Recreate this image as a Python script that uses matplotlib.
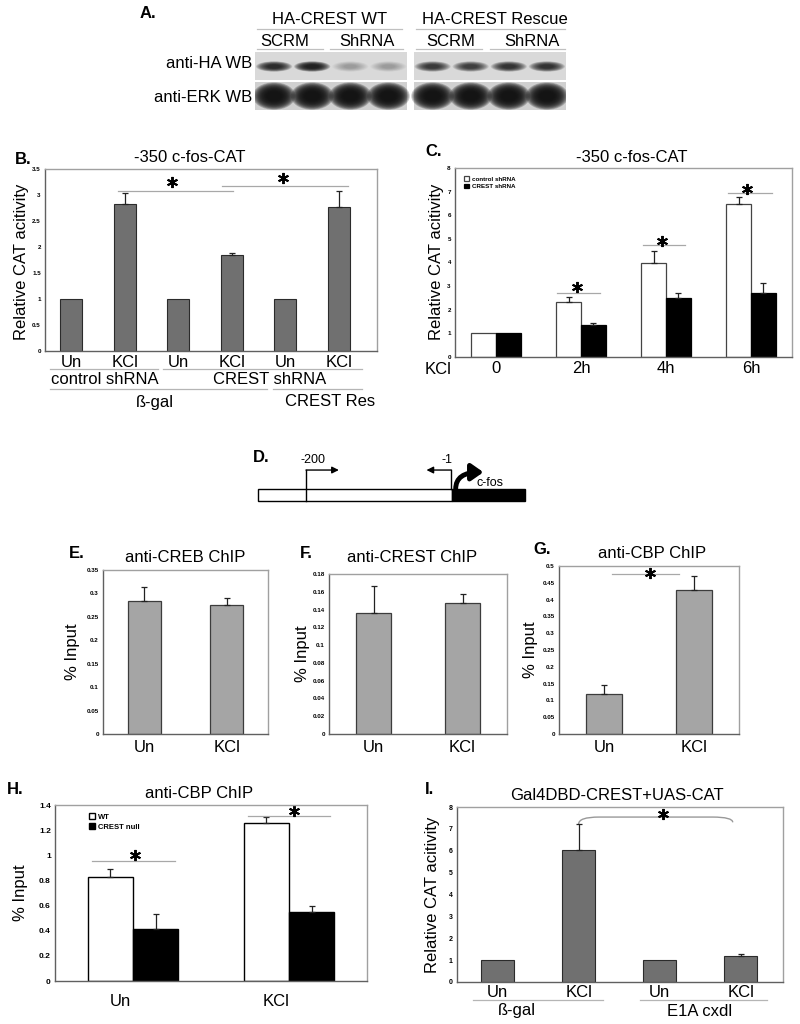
import numpy as np
import matplotlib
matplotlib.use('Agg')
import matplotlib.pyplot as plt
from matplotlib.patches import Rectangle, Ellipse, FancyArrowPatch, PathPatch
from matplotlib.path import Path
from matplotlib.ticker import FuncFormatter

plt.rcParams['font.family'] = ['Liberation Sans', 'DejaVu Sans']

# ---------------- DATA ----------------
# A. western blot, band strength per lane (SCRM, SCRM, ShRNA, ShRNA)
ha_wt = [0.85, 0.9, 0.3, 0.28]
ha_rescue = [0.78, 0.75, 0.8, 0.82]
erk_wt = [1.0, 1.0, 1.0, 1.0]
erk_rescue = [1.0, 1.0, 1.0, 1.0]

# B. -350 c-fos-CAT with shRNA
b_ticks = ['Un', 'KCl', 'Un', 'KCl', 'Un', 'KCl']
b_values = [1.0, 2.83, 1.0, 1.84, 1.0, 2.77]
b_err = [0, 0.21, 0, 0.05, 0, 0.30]

# C. KCl time course
c_ticks = ['0', '2h', '4h', '6h']
c_control = [1.0, 2.31, 3.98, 6.46]
c_control_err = [0, 0.21, 0.52, 0.31]
c_crest = [1.02, 1.36, 2.49, 2.69]
c_crest_err = [0, 0.10, 0.21, 0.43]

# D. promoter map (bp from TSS)
promoter_start = -266
exon_end = 100
primer_fwd = -200
primer_rev = -1

# E-G. ChIP at c-fos promoter
chip_ticks = ['Un', 'KCl']
creb_values = [0.283, 0.275]
creb_err = [0.031, 0.016]
crest_values = [0.136, 0.147]
crest_err = [0.031, 0.011]
cbp_values = [0.120, 0.430]
cbp_err = [0.025, 0.041]

# H. CBP ChIP, WT vs CREST null
h_ticks = ['Un', 'KCl']
h_wt = [0.83, 1.26]
h_wt_err = [0.06, 0.045]
h_null = [0.415, 0.545]
h_null_err = [0.12, 0.05]

# I. Gal4DBD-CREST + UAS-CAT
i_ticks = ['Un', 'KCl', 'Un', 'KCl']
i_values = [1.0, 6.02, 1.0, 1.19]
i_err = [0, 1.19, 0, 0.08]


# ---------------- HELPERS ----------------
W, H = 800, 1024
fig = plt.figure(figsize=(W / 100, H / 100), dpi=100)


def panel(x0, y0, x1, y1):
    # axes placed by pixel box (top-left origin)
    return fig.add_axes([x0 / W, 1 - y1 / H, (x1 - x0) / W, (y1 - y0) / H])


ov = fig.add_axes([0, 0, 1, 1], zorder=10)
ov.set_xlim(0, W)
ov.set_ylim(H, 0)
ov.axis('off')


def label(x, y, s, size=12, ha='center', **kw):
    ov.text(x, y, s, fontsize=size, ha=ha, va='center', **kw)


def hline(x0, x1, y, color='#b5b5b5'):
    ov.plot([x0, x1], [y, y], color=color, lw=0.9)


def style(ax, ymax, step, tsize=4.5, xpad=4):
    ax.set_ylim(0, ymax)
    ax.set_yticks(np.arange(0, ymax + step / 2, step))
    ax.yaxis.set_major_formatter(FuncFormatter(lambda v, p: f'{v:g}'))
    ax.tick_params(axis='y', length=0, labelsize=tsize, pad=3)
    ax.tick_params(axis='x', length=0, labelsize=12, pad=xpad)
    for t in ax.get_yticklabels():
        t.set_fontweight('bold')
    for s in ax.spines.values():
        s.set_color('#a0a0a0')
        s.set_linewidth(1)
    ax.spines['left'].set_color('#606060')
    ax.spines['bottom'].set_color('#606060')


def up_err(ax, x, vals, errs):
    x = np.asarray(x, float)
    vals = np.asarray(vals, float)
    errs = np.asarray(errs, float)
    m = errs > 0
    ax.errorbar(x[m], vals[m], yerr=[np.zeros(m.sum()), errs[m]], fmt='none',
                ecolor='#222222', elinewidth=0.9, capsize=2.2, capthick=0.9)


def sig(ax, x0, x1, y):
    ax.plot([x0, x1], [y, y], color='#a8a8a8', lw=0.9, clip_on=False)


def star(ax, x, y):
    ax.plot(x, y, marker=(6, 2, 0), ms=8, mew=1.4, color='black', clip_on=False)


def band(ax, x, y, w, h, strength):
    # soft blot band: many faint ellipses stacked toward the centre
    n = 14
    a = 1 - (1 - min(strength, 0.97)) ** (1 / n)
    for s in np.linspace(1.0, 0.35, n):
        ax.add_patch(Ellipse((x, y), w * s, h * s, color='#111111', alpha=a, lw=0))


# ---------------- A. BLOT ----------------
axA = panel(255, 52, 566, 110)
axA.set_xlim(0, 8.16)
axA.set_ylim(0, 2)
axA.axis('off')
for k, (ha_vals, erk_vals) in enumerate([(ha_wt, erk_wt), (ha_rescue, erk_rescue)]):
    x0 = k * 4.16
    axA.add_patch(Rectangle((x0, 1.05), 4, 0.95, color='#d9d9d9', lw=0))
    axA.add_patch(Rectangle((x0, 0), 4, 0.97, color='#d0d0d0', lw=0))
    for j in range(4):
        band(axA, x0 + j + 0.5, 1.5, 0.95, 0.36, ha_vals[j])
        band(axA, x0 + j + 0.5, 0.48, 1.12, 0.95, erk_vals[j])

label(140, 14, 'A.', ha='left', weight='bold')
label(330, 20, 'HA-CREST WT')
label(495, 20, 'HA-CREST Rescue')
hline(257, 402, 29, '#c0c0c0')
hline(416, 565, 29, '#c0c0c0')
for xc, s in [(285, 'SCRM'), (367, 'ShRNA'), (451, 'SCRM'), (532, 'ShRNA')]:
    label(xc, 41, s)
for a, b in [(257, 323), (330, 403), (416, 482), (490, 565)]:
    hline(a, b, 49, '#c0c0c0')
label(252, 64, 'anti-HA WB', ha='right')
label(252, 98, 'anti-ERK WB', ha='right')

# ---------------- B ----------------
axB = panel(45, 169, 377, 351)
xb = np.arange(len(b_values))
axB.bar(xb, b_values, width=0.41, color='#707070', edgecolor='#2b2b2b', linewidth=0.8)
up_err(axB, xb, b_values, b_err)
style(axB, 3.5, 0.5, xpad=3)
axB.set_xlim(-0.485, 5.71)
axB.set_xticks(xb, b_ticks)
sig(axB, 0.88, 3.02, 3.08)
star(axB, 1.88, 3.25)
sig(axB, 2.82, 5.17, 3.17)
star(axB, 3.96, 3.33)

label(15, 160, 'B.', ha='left', weight='bold')
label(190, 158, '-350 c-fos-CAT')
label(22, 262, 'Relative CAT acitivity', rotation=90)
hline(50, 158, 369)
hline(163, 362, 369)
label(105, 380, 'control shRNA')
label(270, 380, 'CREST shRNA')
hline(50, 267, 389)
hline(273, 362, 389)
label(155, 402, 'ß-gal')
label(330, 402, 'CREST Res')

# ---------------- C ----------------
axC = panel(455, 168, 792, 357)
xc = np.arange(len(c_ticks))
w = 0.29
axC.bar(xc - w / 2, c_control, w, color='white', edgecolor='#444444', linewidth=0.9,
        label='control shRNA')
axC.bar(xc + w / 2, c_crest, w, color='black', edgecolor='black', linewidth=0.9,
        label='CREST shRNA')
up_err(axC, xc - w / 2, c_control, c_control_err)
up_err(axC, xc + w / 2, c_crest, c_crest_err)
style(axC, 8, 1, xpad=3)
axC.set_xlim(-0.48, 3.48)
axC.set_xticks(xc, c_ticks)
axC.legend(loc='upper left', bbox_to_anchor=(0.02, 0.97), prop={'size': 4.5, 'weight': 'bold'},
           frameon=False, handlelength=0.8, handleheight=0.8, labelspacing=0.3,
           borderaxespad=0, handletextpad=0.4)
sig(axC, 0.72, 1.22, 2.73)
star(axC, 0.95, 2.95)
sig(axC, 1.73, 2.22, 4.72)
star(axC, 1.95, 4.93)
sig(axC, 2.73, 3.24, 6.94)
star(axC, 2.95, 7.13)

label(425, 152, 'C.', ha='left', weight='bold')
label(632, 157, '-350 c-fos-CAT')
label(436, 262, 'Relative CAT acitivity', rotation=90)
label(438, 369, 'KCl')

# ---------------- D ----------------
axD = panel(250, 450, 530, 506)
axD.set_xlim(-276.7, 106.8)
axD.set_ylim(-0.417, 4.25)
axD.axis('off')
axD.add_patch(Rectangle((promoter_start, 0), -promoter_start, 1, fc='white', ec='black', lw=1))
axD.add_patch(Rectangle((0, 0), exon_end, 1, fc='black', ec='black', lw=1))
axD.plot([primer_fwd, primer_fwd], [0, 2.58], color='black', lw=1)
axD.annotate('', xy=(primer_fwd + 45, 2.58), xytext=(primer_fwd, 2.58),
             arrowprops=dict(arrowstyle='-|>', lw=1, color='black', mutation_scale=10,
                             shrinkA=0, shrinkB=0))
axD.plot([primer_rev, primer_rev], [1, 2.58], color='black', lw=1)
axD.annotate('', xy=(primer_rev - 34, 2.58), xytext=(primer_rev, 2.58),
             arrowprops=dict(arrowstyle='-|>', lw=1, color='black', mutation_scale=10,
                             shrinkA=0, shrinkB=0))
axD.add_patch(FancyArrowPatch((5, 1.0), (43, 2.4), connectionstyle='angle3,angleA=90,angleB=0',
                              arrowstyle='-|>,head_length=0.5,head_width=0.35',
                              mutation_scale=14, lw=3.5, color='black',
                              shrinkA=0, shrinkB=0))
axD.text(primer_fwd + 10, 3.45, '-200', fontsize=9, ha='center', va='center')
axD.text(primer_rev - 6, 3.45, '-1', fontsize=9, ha='center', va='center')
axD.text(34, 1.5, 'c-fos', fontsize=9, ha='left', va='center')
label(253, 457, 'D.', ha='left', weight='bold')


# ---------------- E, F, G ----------------
def chip(box, values, errs, ymax, step):
    ax = panel(*box)
    x = np.arange(len(values))
    ax.bar(x, values, 0.4, color='#a5a5a5', edgecolor='#3c3c3c', linewidth=0.9)
    up_err(ax, x, values, errs)
    style(ax, ymax, step)
    ax.set_xlim(-0.5, 1.5)
    ax.set_xticks(x, chip_ticks)
    return ax


axE = chip((103, 570, 268, 734), creb_values, creb_err, 0.35, 0.05)
axF = chip((329, 574, 507, 734), crest_values, crest_err, 0.18, 0.02)
axG = chip((559, 566, 739, 734), cbp_values, cbp_err, 0.5, 0.05)
sig(axG, 0.09, 0.83, 0.475)
star(axG, 0.51, 0.478)

label(69, 553, 'E.', ha='left', weight='bold')
label(185, 557, 'anti-CREB ChIP')
label(72, 652, '% Input', rotation=90)
label(300, 553, 'F.', ha='left', weight='bold')
label(412, 557, 'anti-CREST ChIP')
label(302, 654, '% Input', rotation=90)
label(533, 550, 'G.', ha='left', weight='bold')
label(652, 553, 'anti-CBP ChIP')
label(530, 650, '% Input', rotation=90)

# ---------------- H ----------------
axH = panel(55, 805, 367, 981)
xh = np.arange(len(h_ticks))
axH.bar(xh - w / 2, h_wt, w, color='white', edgecolor='black', linewidth=1, label='WT')
axH.bar(xh + w / 2, h_null, w, color='black', edgecolor='black', linewidth=1, label='CREST null')
up_err(axH, xh - w / 2, h_wt, h_wt_err)
up_err(axH, xh + w / 2, h_null, h_null_err)
style(axH, 1.4, 0.2, tsize=6, xpad=9)
axH.set_xlim(-0.5, 1.5)
axH.set_xticks(xh - 0.08, h_ticks)
axH.legend(loc='upper left', bbox_to_anchor=(0.1, 0.97), prop={'size': 5.5, 'weight': 'bold'},
           frameon=False, handlelength=0.8, handleheight=0.8, labelspacing=0.3,
           borderaxespad=0, handletextpad=0.3)
sig(axH, -0.26, 0.27, 0.952)
star(axH, 0.01, 1.005)
sig(axH, 0.74, 1.26, 1.31)
star(axH, 1.03, 1.35)

label(7, 790, 'H.', ha='left', weight='bold')
label(199, 793, 'anti-CBP ChIP')
label(21, 893, '% Input', rotation=90)

# ---------------- I ----------------
axI = panel(457, 807, 783, 982)
xi = np.arange(len(i_values))
axI.bar(xi, i_values, 0.41, color='#707070', edgecolor='#2b2b2b', linewidth=0.8)
up_err(axI, xi, i_values, i_err)
style(axI, 8, 1, tsize=5, xpad=2)
axI.set_xlim(-0.5, 3.52)
axI.set_xticks(xi, i_ticks)
bracket = Path([(1.0, 7.22), (1.0, 7.54), (1.25, 7.54), (2.65, 7.54), (2.9, 7.54), (2.9, 7.3)],
               [Path.MOVETO, Path.CURVE3, Path.CURVE3, Path.LINETO, Path.CURVE3, Path.CURVE3])
axI.add_patch(PathPatch(bracket, fc='none', ec='#999999', lw=1))
star(axI, 2.04, 7.67)

label(425, 790, 'I.', ha='left', weight='bold')
label(617, 795, 'Gal4DBD-CREST+UAS-CAT')
label(433, 895, 'Relative CAT acitivity', rotation=90)
hline(473, 603, 1000)
hline(640, 767, 1000)
label(517, 1011, 'ß-gal')
label(700, 1011, 'E1A cxdl')

fig.savefig('out.png', dpi=100, facecolor='white')
